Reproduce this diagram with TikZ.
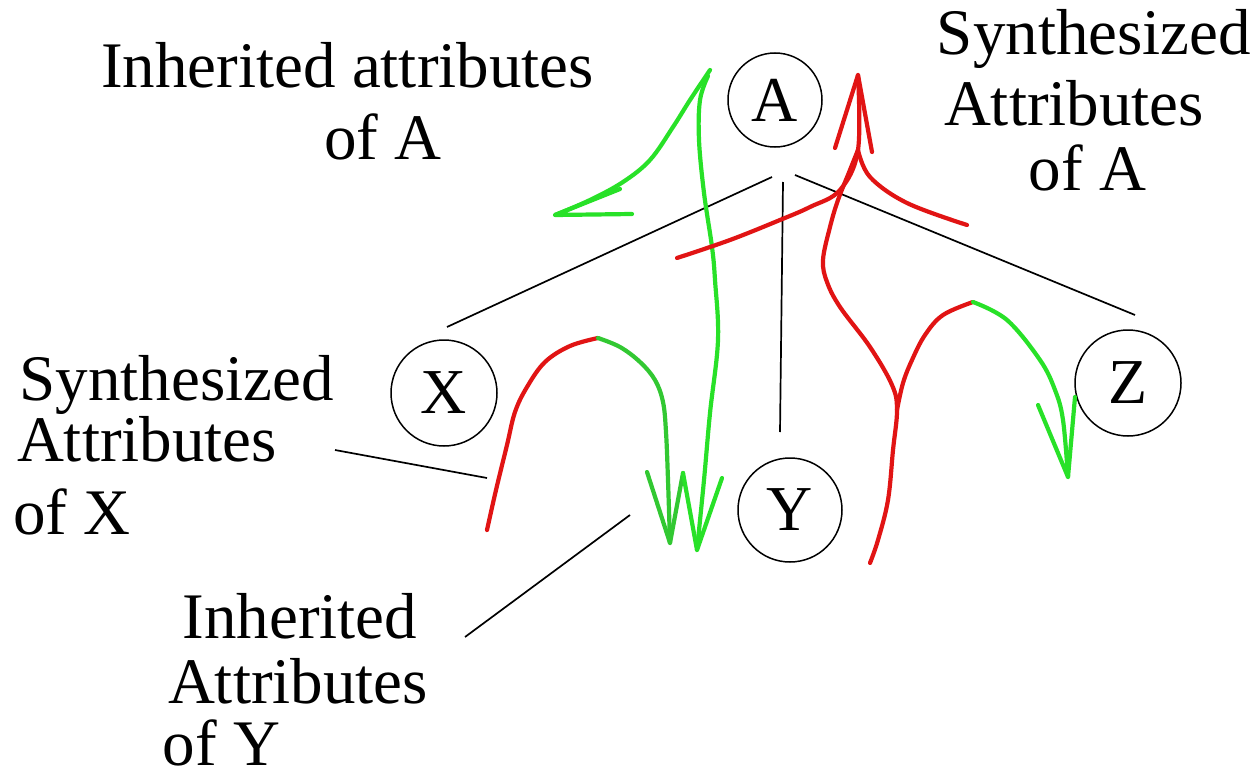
\documentclass[tikz,border=0pt]{standalone}
\usepackage{fontspec}
\setmainfont{Liberation Serif}
\definecolor{hred}{RGB}{225,20,20}
\definecolor{hgreen}{RGB}{40,225,40}
\definecolor{hgreenb}{RGB}{50,200,50}
\begin{document}
\begin{tikzpicture}[x=1pt,y=-1pt,
  lbl/.style={anchor=base,inner sep=0pt,font=\fontsize{65}{68}\selectfont},
  vert/.style={circle,draw,line width=1.5pt,inner sep=0pt,font=\fontsize{64}{68}\selectfont},
  edge/.style={line width=1.7pt},
  redstroke/.style={hred,line width=4.2pt,line cap=round,line join=round},
  grnstroke/.style={hgreen,line width=4.2pt,line cap=round,line join=round},
  grnstrokeb/.style={hgreenb,line width=4.2pt,line cap=round,line join=round}]
\useasboundingbox (0,0) rectangle (1258,781);
\fill[white] (0,0) rectangle (1258,781);
% circles
\node[vert,minimum size=94pt] (A) at (775,100) {A};
\node[vert,minimum size=106pt] (X) at (444,393) {X};
\node[vert,minimum size=104pt] (Y) at (790,510) {Y};
\node[vert,minimum size=106pt] (Z) at (1128,383) {Z};
% labels
\node[lbl] (inhA1) at (347.5,88) {Inherited attributes};
\node[lbl] (inhA2) at (383,160) {of A};
\node[lbl] (synA1) at (1094,55) {Synthesized};
\node[lbl] (synA2) at (1074,125) {Attributes};
\node[lbl] (synA3) at (1087.5,190) {of A};
\node[lbl] (synX1) at (176.5,400) {Synthesized};
\node[lbl] (synX2) at (147,461) {Attributes};
\node[lbl] (synX3) at (72,534) {of X};
\node[lbl] (inhY1) at (300,638) {Inherited};
\node[lbl] (inhY2) at (298,703) {Attributes};
\node[lbl] (inhY3) at (221.5,765) {of Y};
% tree edges
\coordinate (aX) at (772,177); \coordinate (eX) at (447,327);
\coordinate (aY) at (783,182); \coordinate (eY) at (780,432);
\coordinate (aZ) at (795,175); \coordinate (eZ) at (1135,315);
\draw[edge] (aX) -- (eX);
\draw[edge] (aY) -- (eY);
\draw[edge] (aZ) -- (eZ);
% pointer lines
\coordinate (pX1) at (335,450); \coordinate (pX2) at (487,478);
\coordinate (pY1) at (465,637); \coordinate (pY2) at (630,515);
\draw[edge] (pX1) -- (pX2);
\draw[edge] (pY1) -- (pY2);
% X hook: red then green
\draw[redstroke] plot[smooth,tension=0.6] coordinates {(487,530) (496,490) (507,445) (515,412) (527,387) (545,362) (570,346) (598,338)};
\draw[grnstrokeb] plot[smooth,tension=0.6] coordinates {(598,338) (620,347) (640,362) (655,380) (663,402) (666,432) (668,480) (670,543)};
\draw[grnstrokeb] (647,472) -- (670,543) -- (683,473);
% long green stem with hook at top
\draw[grnstroke] plot[smooth,tension=0.6] coordinates {(697,550) (704,480) (710,413) (718,340) (715,280) (712,247) (704,193) (699,140) (700,100) (708,76)};
\draw[grnstroke] plot[smooth,tension=0.6] coordinates {(710,70) (690,100) (673,127) (650,160) (623,182) (590,200) (555,215)};
\draw[grnstroke] (683,473) -- (697,550) -- (722,478);
\draw[grnstroke] (632,214) -- (555,215) -- (620,189);
% right red structure
\draw[redstroke] (835,148) -- (858,75) -- (872,152);
\draw[redstroke] plot[smooth,tension=0.6] coordinates {(858,75) (858,150) (840,190) (810,207) (780,220) (730,240) (677,258)};
\draw[redstroke] plot[smooth,tension=0.6] coordinates {(858,150) (870,177) (907,203) (967,225)};
\draw[redstroke] plot[smooth,tension=0.6] coordinates {(858,150) (850,170) (838,200) (830,227) (823,260) (827,282) (840,307) (870,347) (892,385) (897,410) (893,450) (888,500) (878,540) (870,563)};
\draw[redstroke] plot[smooth,tension=0.6] coordinates {(897,410) (903,383) (912,360) (925,335) (943,315) (973,302)};
\draw[grnstroke] plot[smooth,tension=0.6] coordinates {(973,302) (1007,320) (1040,360) (1055,390) (1063,420) (1068,477)};
\draw[grnstroke] (1038,405) -- (1068,477) -- (1075,397);
\end{tikzpicture}
\end{document}
